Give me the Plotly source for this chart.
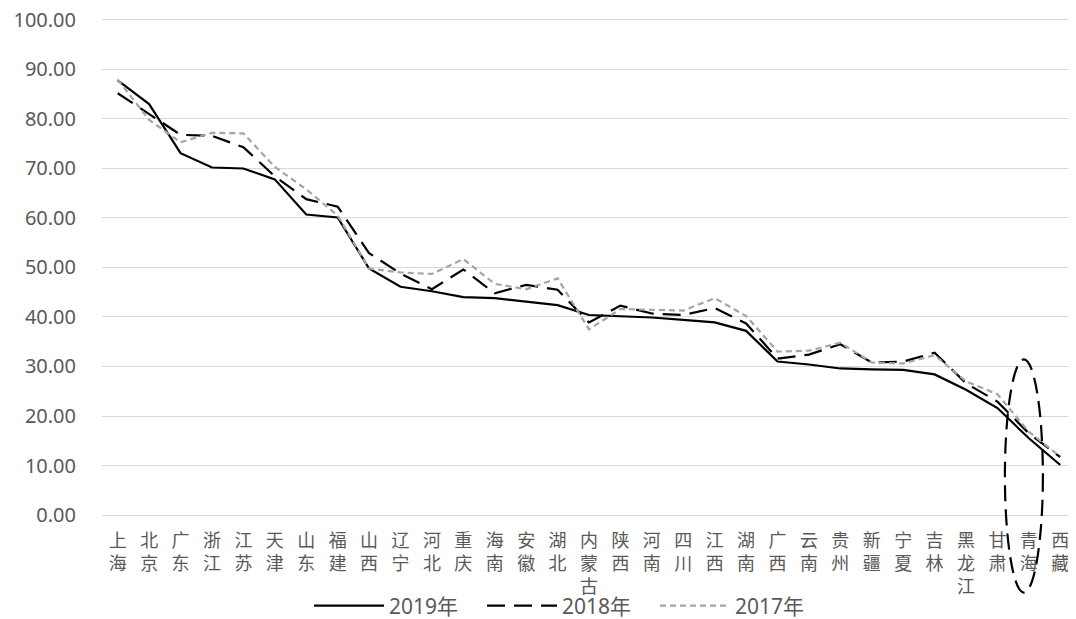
import plotly.graph_objects as go

provinces = ["上海", "北京", "广东", "浙江", "江苏", "天津", "山东", "福建", "山西", "辽宁",
             "河北", "重庆", "海南", "安徽", "湖北", "内蒙古", "陕西", "河南", "四川", "江西",
             "湖南", "广西", "云南", "贵州", "新疆", "宁夏", "吉林", "黑龙江", "甘肃", "青海", "西藏"]

v2019 = [87.8, 83.0, 73.1, 70.2, 70.0, 67.8, 60.7, 60.1, 49.8, 46.1,
         45.2, 44.0, 43.8, 43.1, 42.4, 40.4, 40.2, 39.9, 39.4, 38.9,
         37.2, 31.0, 30.4, 29.6, 29.4, 29.3, 28.4, 25.3, 21.6, 15.5, 10.1]

v2018 = [85.2, 81.0, 76.8, 76.6, 74.3, 68.4, 63.8, 62.3, 52.9, 48.8,
         45.6, 49.6, 44.8, 46.5, 45.5, 38.9, 42.3, 40.7, 40.4, 41.8,
         38.7, 31.6, 32.4, 34.5, 30.8, 31.0, 32.8, 26.6, 22.9, 16.5, 11.7]

v2017 = [88.0, 79.8, 75.3, 77.2, 77.1, 70.3, 65.8, 60.5, 49.8, 49.0,
         48.7, 51.7, 46.7, 45.6, 47.8, 37.5, 41.6, 41.5, 41.3, 43.8,
         40.2, 33.0, 33.2, 34.8, 30.8, 30.6, 32.3, 27.0, 24.4, 16.8, 11.8]

y_ticks = [0, 10, 20, 30, 40, 50, 60, 70, 80, 90, 100]

tick_text = ["<br>".join(list(p)) for p in provinces]

font_family = "Noto Sans, Noto Sans CJK SC, sans-serif"
text_color = "#595959"

fig = go.Figure()
fig.add_trace(go.Scatter(x=provinces, y=v2019, mode="lines", name="2019年",
                         line=dict(color="black", width=2.2, dash="solid")))
fig.add_trace(go.Scatter(x=provinces, y=v2018, mode="lines", name="2018年",
                         line=dict(color="black", width=2.2, dash="18px,9px")))
fig.add_trace(go.Scatter(x=provinces, y=v2017, mode="lines", name="2017年",
                         line=dict(color="#A5A5A5", width=2.2, dash="6px,4px")))

fig.add_shape(type="circle", xref="paper", yref="paper",
              x0=0.927, x1=0.966, y0=-0.156, y1=0.313,
              line=dict(color="black", width=2.2, dash="16px,8px"),
              fillcolor="rgba(0,0,0,0)")

# page body has an 8px margin: figure is sized/offset so plot area lands at x 102-1076, y ~18-515
fig.update_layout(
    width=1068, height=611,
    margin=dict(l=94, r=0, t=10, b=104, autoexpand=False),
    plot_bgcolor="white", paper_bgcolor="white",
    font=dict(family=font_family, size=18, color=text_color),
    showlegend=True,
    legend=dict(orientation="h", x=0.479, xanchor="center", y=-0.183, yanchor="middle",
                font=dict(size=21, color=text_color), bgcolor="rgba(0,0,0,0)",
                itemwidth=70, entrywidth=88, tracegroupgap=0),
)
fig.update_xaxes(
    type="category", tickmode="array", tickvals=provinces, ticktext=tick_text,
    range=[-0.5, len(provinces) - 0.5],
    showgrid=False, showline=True, linecolor="#D9D9D9", linewidth=1,
    ticks="", tickfont=dict(size=18, color=text_color,
                            family="Noto Sans CJK SC, sans-serif"),
    ticklabelstandoff=9, ticklabeloverflow="allow",
    automargin=False, fixedrange=True,
)
fig.update_yaxes(
    range=[0, 100.4], tickmode="array", tickvals=y_ticks, tickformat=".2f",
    showgrid=True, gridcolor="#D9D9D9", gridwidth=1,
    zeroline=False, showline=False, ticks="",
    ticklabelstandoff=25, ticklabeloverflow="allow",
    tickfont=dict(size=20, color=text_color),
    automargin=False, fixedrange=True,
)

fig.write_html("out.html")
